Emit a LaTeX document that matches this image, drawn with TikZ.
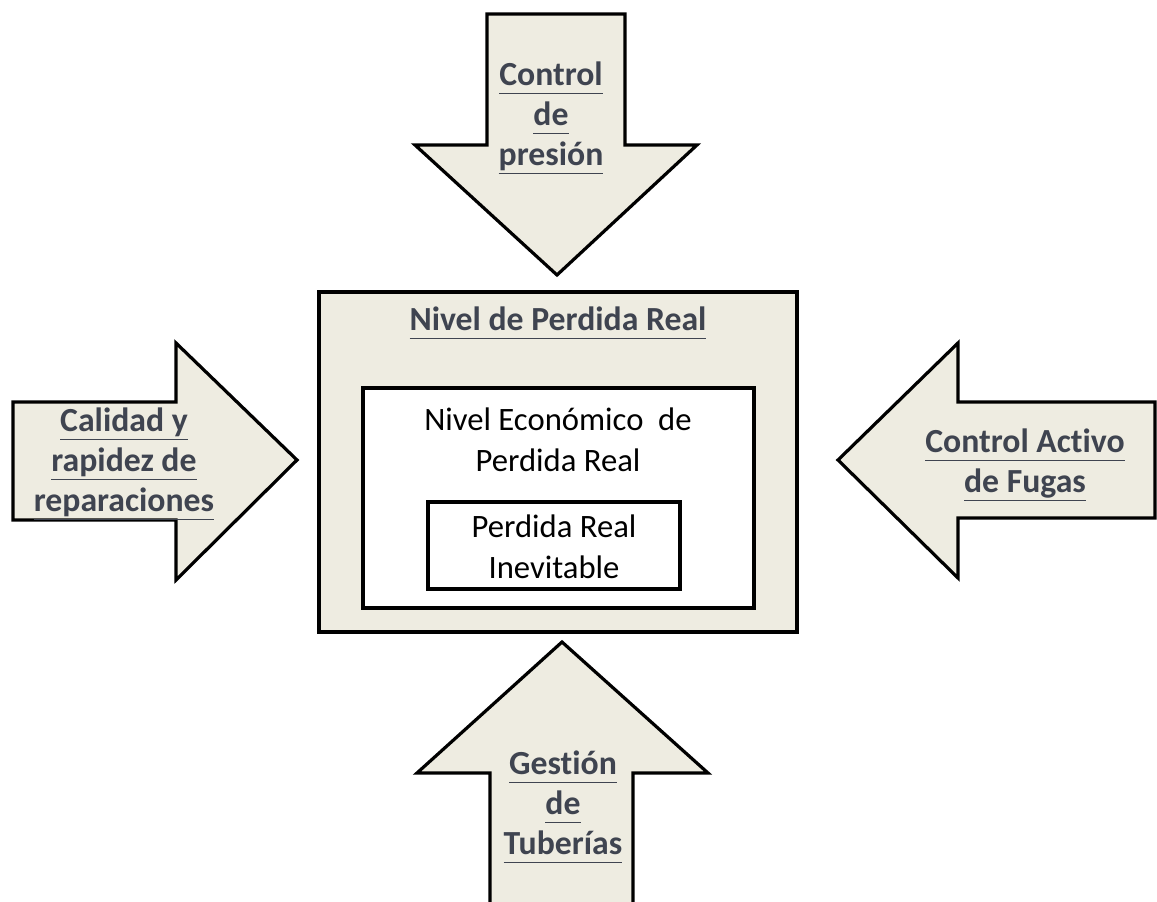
\documentclass[tikz,border=0pt]{standalone}
\usepackage{fontspec}
\setmainfont{Carlito}[Ligatures=NoCommon]
\definecolor{papel}{HTML}{EEECE1}
\definecolor{tinta}{HTML}{3F4450}
\newsavebox\subbox
\newcommand\subr[1]{\sbox\subbox{#1}\rlap{\usebox\subbox}\rule[-6.5pt]{\wd\subbox}{1.2pt}}

\begin{document}
\begin{tikzpicture}[
    x=0.75pt, y=-0.75pt,
    caja/.style={draw=black, line width=2.4pt, line join=miter},
    flecha/.style={draw=black, line width=2.4pt, fill=papel, line join=miter},
    rotulo/.style={align=center, text=tinta, font=\fontsize{25.3}{30}\selectfont\bfseries, inner sep=0pt},
    texto/.style={align=center, text=black, font=\fontsize{24.5}{30.5}\selectfont, inner sep=0pt}
]
\useasboundingbox (0,0) rectangle (1157,902);
\clip (0,0) rectangle (1157,902);

% Arrows
\draw[flecha] (487,14) -- (625,14) -- (625,145) -- (697,145) -- (557,275) -- (415,145) -- (487,145) -- cycle;
\draw[flecha] (490,910) -- (490,773) -- (417,773) -- (562,642) -- (708,773) -- (633,773) -- (633,910);
\draw[flecha] (13,402) -- (176,402) -- (176,343) -- (297,460) -- (176,580) -- (176,520) -- (13,520) -- cycle;
\draw[flecha] (1155,402) -- (958,402) -- (958,343) -- (838,460) -- (958,578) -- (958,518) -- (1155,518) -- cycle;

% Boxes
\draw[caja, fill=papel] (319,292) rectangle (797,632);
\draw[caja, fill=white] (363,388) rectangle (754,608);
\draw[caja, fill=white] (428,502) rectangle (680,589);

% Labels
\node[rotulo] (presion) at (551,118) {\subr{Control}\\\subr{de}\\\subr{presión}};
\node[rotulo] (tuberias) at (563,807) {\subr{Gestión}\\\subr{de}\\\subr{Tuberías}};
\node[rotulo] (reparaciones) at (124,464) {\subr{Calidad y}\\\subr{rapidez de}\\\subr{reparaciones}};
\node[rotulo] (fugas) at (1025,465) {\subr{Control Activo}\\\subr{de Fugas}};
\node[rotulo] (nivel) at (558,323) {\subr{Nivel de Perdida Real}};
\node[texto] (economico) at (558,440) {Nivel Económico~ de\\Perdida Real};
\node[texto] (inevitable) at (554,547) {Perdida Real\\Inevitable};

\end{tikzpicture}
\end{document}
